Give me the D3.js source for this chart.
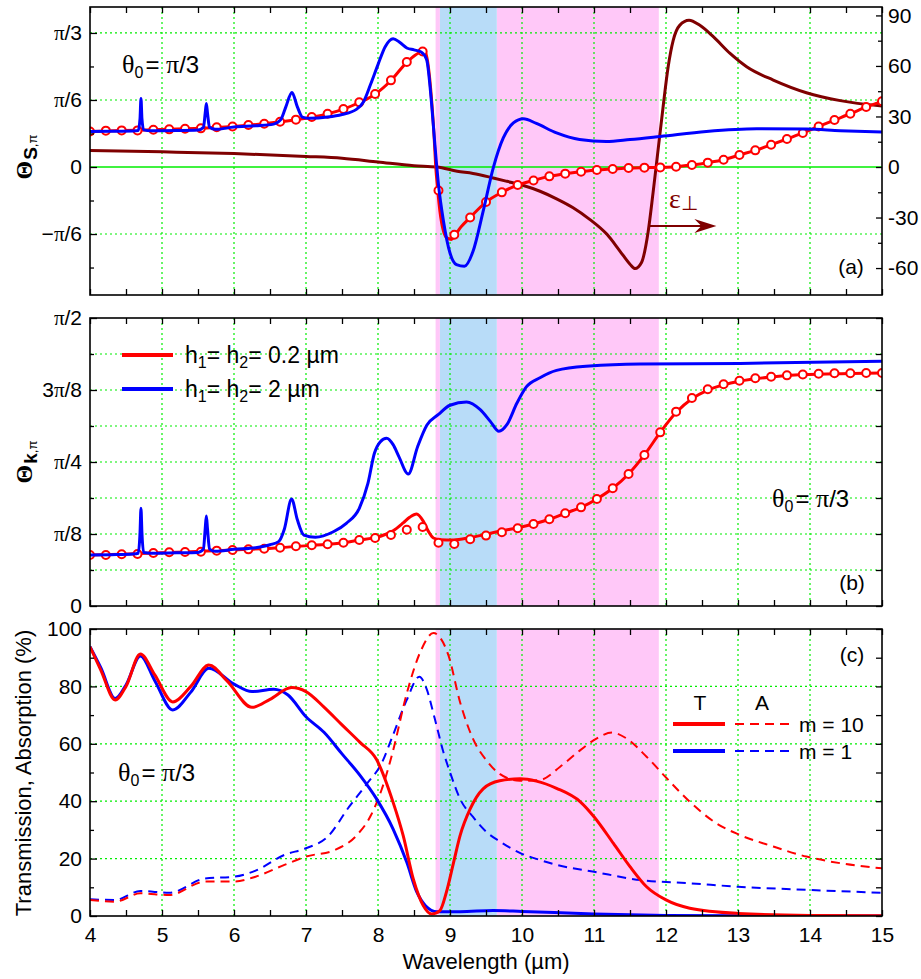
<!DOCTYPE html>
<html>
<head>
<meta charset="utf-8">
<script src="https://cdn.jsdelivr.net/npm/d3@7"></script>
<style>
  body { margin: 0; background: #fff; }
  svg { display: block; }
  text { font-family: "Liberation Sans", Arial, sans-serif; fill: #000; }
</style>
</head>
<body>
<svg id="chart" width="921" height="979"></svg>
<script>
// ---------- data ----------
// Spectral bands (µm): narrow pink edge, blue band, wide pink band
const bandsPink = [[8.80, 8.86], [9.65, 11.90]];
const bandsBlue = [[8.86, 9.65]];

// Panel (a): Θ_S,π (rad), h1 = h2 = 0.2 µm — solid line
const thetaS_h02 = [[4.00,0.278],[4.44,0.285],[4.88,0.291],[5.32,0.298],[5.76,0.309],[6.20,0.327],[6.64,0.353],[7.08,0.389],[7.30,0.415],[7.52,0.452],[7.74,0.504],[7.96,0.569],[8.18,0.676],[8.40,0.818],[8.52,0.875],[8.62,0.903],[8.66,0.895],[8.69,0.82],[8.73,0.62],[8.78,0.23],[8.80,0.02],[8.83,-0.183],[8.86,-0.347],[8.91,-0.503],[8.96,-0.555],[9.02,-0.566],[9.06,-0.54],[9.15,-0.47],[9.28,-0.394],[9.50,-0.274],[9.72,-0.198],[9.94,-0.141],[10.16,-0.105],[10.38,-0.073],[10.60,-0.052],[10.82,-0.037],[11.04,-0.024],[11.26,-0.016],[11.48,-0.008],[11.70,-0.005],[11.92,-0.003],[12.14,0.002],[12.36,0.016],[12.58,0.034],[12.80,0.057],[13.02,0.094],[13.24,0.130],[13.46,0.174],[13.68,0.219],[13.90,0.266],[14.12,0.317],[14.34,0.367],[14.56,0.416],[14.78,0.469],[15.00,0.513]];
// Panel (a): open circles, sampled every 0.22 µm from 4 to 15 µm
const thetaS_h02_marks = [0.278,0.284,0.286,0.286,0.291,0.294,0.299,0.302,0.310,0.317,0.328,0.338,0.354,0.370,0.390,0.416,0.453,0.505,0.570,0.677,0.820,0.903,-0.183,-0.529,-0.394,-0.274,-0.198,-0.141,-0.105,-0.073,-0.052,-0.037,-0.024,-0.016,-0.008,-0.005,-0.003,0.002,0.016,0.034,0.057,0.094,0.130,0.174,0.219,0.266,0.317,0.367,0.416,0.469,0.513];
// Panel (a): Θ_S,π (rad), h1 = h2 = 2 µm
const thetaS_h2 = [[4.00,0.278],[4.30,0.279],[4.60,0.281],[4.67,0.285],[4.695,0.38],[4.708,0.536],[4.721,0.38],[4.745,0.29],[4.85,0.283],[5.20,0.285],[5.50,0.289],[5.575,0.31],[5.600,0.42],[5.616,0.497],[5.632,0.42],[5.66,0.31],[5.74,0.294],[6.00,0.312],[6.30,0.322],[6.55,0.335],[6.65,0.37],[6.72,0.47],[6.805,0.583],[6.88,0.47],[6.95,0.39],[7.05,0.38],[7.30,0.39],[7.50,0.41],[7.70,0.45],[7.80,0.51],[7.90,0.65],[8.00,0.80],[8.10,0.94],[8.21,1.002],[8.30,0.975],[8.40,0.93],[8.50,0.915],[8.60,0.898],[8.675,0.84],[8.745,0.49],[8.79,0.174],[8.84,-0.138],[8.91,-0.425],[9.00,-0.672],[9.09,-0.763],[9.20,-0.776],[9.32,-0.659],[9.46,-0.347],[9.60,-0.008],[9.74,0.227],[9.88,0.344],[10.02,0.377],[10.20,0.34],[10.48,0.266],[10.80,0.215],[11.17,0.200],[11.50,0.215],[11.92,0.239],[12.56,0.278],[13.26,0.299],[13.95,0.297],[14.42,0.284],[15.00,0.273]];
// Panel (a), right axis: ε⊥
const epsPerp = [[4.0,9.8],[5.0,9.0],[6.0,8.0],[7.0,6.3],[7.5,5.2],[8.0,3.0],[8.5,0.8],[8.82,0],[9.1,-2.5],[9.32,-3.8],[9.6,-6.5],[9.79,-8.5],[10.02,-11],[10.25,-14.4],[10.48,-18.9],[10.71,-24.2],[10.94,-31.1],[11.18,-40],[11.36,-49.9],[11.5,-57.7],[11.57,-60.3],[11.66,-56.7],[11.75,-39],[11.82,-15.4],[11.89,10.2],[11.96,35.8],[12.03,59.5],[12.10,75.2],[12.19,84.1],[12.32,87.1],[12.47,84.1],[12.66,77.2],[12.89,67.4],[13.12,59.5],[13.49,51.6],[13.95,44.1],[14.42,39.4],[15.0,36.2]];

// Panel (b): Θ_k,π (rad), h1 = h2 = 0.2 µm — solid line
const thetaK_h02 = [[4.00,0.278],[4.44,0.282],[4.88,0.289],[5.32,0.295],[5.76,0.302],[6.20,0.309],[6.64,0.318],[7.08,0.331],[7.52,0.345],[7.74,0.360],[7.96,0.373],[8.10,0.390],[8.21,0.410],[8.35,0.453],[8.44,0.484],[8.536,0.502],[8.63,0.462],[8.70,0.407],[8.77,0.371],[8.86,0.362],[9.05,0.360],[9.28,0.373],[9.51,0.392],[9.74,0.412],[9.94,0.427],[10.16,0.447],[10.38,0.473],[10.60,0.506],[10.82,0.538],[11.04,0.584],[11.26,0.642],[11.48,0.720],[11.70,0.824],[11.92,0.947],[12.14,1.055],[12.36,1.130],[12.58,1.178],[12.80,1.206],[13.02,1.226],[13.46,1.249],[13.90,1.262],[14.56,1.268],[15.00,1.271]];
// Panel (b): open circles, sampled every 0.22 µm from 4 to 15 µm
const thetaK_h02_marks = [0.278,0.278,0.282,0.284,0.289,0.293,0.295,0.296,0.302,0.305,0.309,0.312,0.318,0.326,0.331,0.337,0.345,0.360,0.371,0.387,0.416,0.431,0.345,0.338,0.364,0.384,0.402,0.424,0.447,0.473,0.506,0.538,0.584,0.642,0.720,0.824,0.947,1.060,1.134,1.182,1.209,1.229,1.242,1.250,1.258,1.263,1.267,1.269,1.269,1.271,1.271];
// Panel (b): Θ_k,π (rad), h1 = h2 = 2 µm
const thetaK_h2 = [[4.00,0.278],[4.30,0.280],[4.60,0.284],[4.67,0.288],[4.695,0.40],[4.708,0.533],[4.721,0.40],[4.745,0.292],[4.85,0.288],[5.20,0.290],[5.50,0.292],[5.575,0.31],[5.600,0.42],[5.616,0.491],[5.632,0.42],[5.66,0.31],[5.74,0.298],[6.00,0.309],[6.30,0.318],[6.50,0.334],[6.62,0.351],[6.70,0.42],[6.80,0.584],[6.88,0.47],[6.97,0.387],[7.13,0.375],[7.38,0.405],[7.56,0.451],[7.74,0.533],[7.86,0.669],[7.95,0.833],[8.03,0.895],[8.12,0.915],[8.21,0.88],[8.29,0.815],[8.42,0.720],[8.55,0.869],[8.68,0.987],[8.84,1.045],[9.00,1.095],[9.23,1.113],[9.42,1.071],[9.56,1.007],[9.68,0.953],[9.79,0.989],[9.93,1.107],[10.06,1.195],[10.25,1.245],[10.48,1.285],[10.94,1.309],[11.64,1.320],[13.03,1.323],[15.00,1.335]];

// Panel (c): transmission T and absorption A (%)
const T_m10 = [[4.0,93.8],[4.15,85.7],[4.35,75.3],[4.5,80],[4.7,91.3],[4.9,84],[5.15,74.6],[5.4,80],[5.65,87.5],[5.9,82],[6.25,72.7],[6.5,75.5],[6.8,79.6],[7.0,78.2],[7.25,72.8],[7.5,66.6],[7.75,60.5],[7.98,54.5],[8.21,39.6],[8.35,28],[8.49,12.9],[8.63,3.6],[8.745,0.7],[8.86,1.9],[8.95,8.3],[9.05,18.7],[9.14,28],[9.28,37.3],[9.46,44.3],[9.69,47.1],[9.97,47.8],[10.2,47],[10.48,44.5],[10.81,39.8],[11.0,34.6],[11.27,25.3],[11.5,17.2],[11.73,10.2],[12.0,5.6],[12.33,2.7],[13.0,0.9],[14.0,0.2],[15.0,0.1]];
const A_m10 = [[4.0,5.6],[4.35,5.0],[4.7,7.9],[5.1,7.3],[5.6,12],[6.0,12],[6.3,13.7],[6.7,17.8],[7.0,20.7],[7.4,23],[7.7,28],[7.9,35],[8.05,44],[8.2,56.7],[8.4,77.6],[8.6,92.7],[8.77,98.6],[8.86,97.1],[8.98,90.7],[9.14,74.5],[9.32,61.7],[9.51,54.1],[9.69,49.5],[9.97,47.1],[10.25,47.4],[10.53,52],[10.81,57.8],[11.04,61.9],[11.25,63.9],[11.45,61.9],[11.73,55.5],[12.01,48],[12.33,39.8],[12.7,32.3],[13.0,28.5],[13.49,24.2],[13.95,20.7],[14.42,18.4],[15.0,16.6]];
const T_m1 = [[4.0,93.8],[4.15,86.5],[4.35,75.8],[4.5,80.5],[4.7,90.6],[4.9,82],[5.15,71.8],[5.4,78],[5.65,86.3],[6.0,80.8],[6.25,78.2],[6.55,79],[6.75,77],[7.0,69.4],[7.25,64],[7.5,56.5],[7.75,49],[7.98,40.8],[8.21,30.3],[8.40,18.7],[8.54,8.3],[8.66,3.6],[8.82,1.5],[9.14,1.5],[9.6,1.9],[10.0,1.6],[11.0,0.7],[12.0,0.2],[13.0,0.05],[15.0,0]];
const A_m1 = [[4.0,5.8],[4.35,5.6],[4.7,8.7],[5.1,8.1],[5.6,13.1],[6.0,13.7],[6.3,15.8],[6.7,21.3],[7.0,23.6],[7.3,27.6],[7.6,38.1],[7.85,46.2],[8.05,53.2],[8.2,62.5],[8.4,75.3],[8.575,83.4],[8.675,79.1],[8.79,68.6],[8.91,57],[9.0,50.1],[9.14,40.8],[9.32,34.5],[9.51,29.2],[9.69,26],[9.97,22],[10.25,19.5],[10.48,17.8],[11.0,15.4],[11.65,12.5],[12.33,11.4],[13.0,10.2],[13.95,9.1],[15.0,8.1]];

// Axis ticks and labels
const PI = Math.PI;
const xTickLabels = d3.range(4, 16);
const thetaSTicks = [-PI/6, 0, PI/6, PI/3];
const thetaSTickLabels = ["−π/6", "0", "π/6", "π/3"];
const thetaSMinor = [-PI/4, -PI/12, PI/12, PI/4];
const epsTicks = [-60, -30, 0, 30, 60, 90];
const epsMinor = [-45, -15, 15, 45, 75];
const thetaKTicks = [0, PI/8, PI/4, 3*PI/8, PI/2];
const thetaKTickLabels = ["0", "π/8", "π/4", "3π/8", "π/2"];
const thetaKMinor = [PI/16, 3*PI/16, 5*PI/16, 7*PI/16];
const tcTicks = [0, 20, 40, 60, 80, 100];
const tcMinor = [10, 30, 50, 70, 90];

// ---------- colours ----------
const RED = "#ff0000", BLUE = "#0000ff", DARK = "#7f0000", GREEN = "#00ee00";
const PINK = "#ffc8f8", LBLUE = "#b8dcf8";

// ---------- scales ----------
const svg = d3.select("#chart");
const X0 = 90, X1 = 882;
const x = d3.scaleLinear().domain([4, 15]).range([X0, X1]);
const pa = { top: 7, bottom: 295 }, pb = { top: 318, bottom: 606 }, pc = { top: 629, bottom: 916 };
const yA = d3.scaleLinear().domain([-1.0, 1.25]).range([pa.bottom, pa.top]);
const yAR = d3.scaleLinear().domain([-76, 95]).range([pa.bottom, pa.top]);
const yB = d3.scaleLinear().domain([0, PI/2]).range([pb.bottom, pb.top]);
const yC = d3.scaleLinear().domain([0, 100]).range([pc.bottom, pc.top]);

const serif = "Liberation Serif, 'Times New Roman', serif";
const piHtml = s => s.replace(/π/g, `<tspan font-family="${serif}">π</tspan>`);

function clip(id, p) {
  svg.append("clipPath").attr("id", id).append("rect")
    .attr("x", X0).attr("y", p.top).attr("width", X1 - X0).attr("height", p.bottom - p.top);
}
clip("ca", pa); clip("cb", pb); clip("cc", pc);

function bands(g, p) {
  bandsPink.forEach(b => g.append("rect").attr("x", x(b[0])).attr("width", x(b[1]) - x(b[0]))
    .attr("y", p.top).attr("height", p.bottom - p.top).attr("fill", PINK));
  bandsBlue.forEach(b => g.append("rect").attr("x", x(b[0])).attr("width", x(b[1]) - x(b[0]))
    .attr("y", p.top).attr("height", p.bottom - p.top).attr("fill", LBLUE));
}

function grid(g, p, y, yVals) {
  d3.range(5, 15).forEach(v => g.append("line")
    .attr("x1", x(v)).attr("x2", x(v)).attr("y1", p.top).attr("y2", p.bottom)
    .attr("stroke", GREEN).attr("stroke-width", 1.2).attr("stroke-dasharray", "2,3"));
  yVals.forEach(v => g.append("line")
    .attr("x1", X0).attr("x2", X1).attr("y1", y(v)).attr("y2", y(v))
    .attr("stroke", GREEN).attr("stroke-width", 1.2).attr("stroke-dasharray", "2,3"));
}

function curve(g, data, y, color, width, dash) {
  const line = d3.line().x(d => x(d[0])).y(d => y(d[1])).curve(d3.curveMonotoneX);
  const path = g.append("path").datum(data).attr("d", line).attr("fill", "none")
    .attr("stroke", color).attr("stroke-width", width).attr("stroke-linejoin", "round");
  if (dash) path.attr("stroke-dasharray", dash);
}

function marks(g, vals, y) {
  g.selectAll(null).data(vals).enter().append("circle")
    .attr("cx", (d, i) => x(4 + 0.22 * i)).attr("cy", d => y(d)).attr("r", 4)
    .attr("fill", "#fff").attr("stroke", RED).attr("stroke-width", 2);
}

function frame(p, xLabels) {
  const halfTicks = d3.range(4, 15.01, 0.5);
  const top = svg.append("g").attr("transform", `translate(0,${p.top})`)
    .call(d3.axisTop(x).tickValues(halfTicks).tickSize(-6).tickFormat(""));
  const bot = svg.append("g").attr("transform", `translate(0,${p.bottom})`)
    .call(d3.axisBottom(x).tickValues(halfTicks).tickSize(-6).tickFormat(""));
  [top, bot].forEach(a => { a.select(".domain").remove(); a.selectAll("line").attr("stroke-width", 1.3); });
  if (xLabels) {
    const lab = svg.append("g").attr("transform", `translate(0,${p.bottom})`)
      .call(d3.axisBottom(x).tickValues(xTickLabels).tickSize(0).tickPadding(11).tickFormat(d3.format("d")));
    lab.select(".domain").remove();
    lab.selectAll("text").attr("font-size", 21).style("font-family", "Liberation Sans, Arial, sans-serif");
  }
  svg.append("rect").attr("x", X0).attr("y", p.top).attr("width", X1 - X0).attr("height", p.bottom - p.top)
    .attr("fill", "none").attr("stroke", "#000").attr("stroke-width", 1.6);
}

function yAxis(y, side, majors, minors, labels, majorLen, minorLen) {
  const X = side === "left" ? X0 : X1;
  const gen = side === "left" ? d3.axisLeft : d3.axisRight;
  const gm = svg.append("g").attr("transform", `translate(${X},0)`)
    .call(gen(y).tickValues(majors).tickSize(-majorLen).tickPadding(side === "left" ? 8 : 6)
      .tickFormat((d, i) => labels ? labels[i] : ""));
  gm.select(".domain").remove();
  gm.selectAll("line").attr("stroke-width", 1.3);
  gm.selectAll("text").attr("font-size", 21).style("font-family", "Liberation Sans, Arial, sans-serif")
    .html(function () { return piHtml(this.textContent); });
  if (minors) {
    const gn = svg.append("g").attr("transform", `translate(${X},0)`)
      .call(gen(y).tickValues(minors).tickSize(-minorLen).tickFormat(""));
    gn.select(".domain").remove();
    gn.selectAll("line").attr("stroke-width", 1.3);
  }
}

function thetaLabel(xp, yp) {
  svg.append("text").attr("x", xp).attr("y", yp).attr("font-size", 24)
    .html(`<tspan font-family="${serif}" font-size="26">θ</tspan><tspan font-size="16" dy="5">0</tspan><tspan dy="-5" dx="2">= </tspan><tspan font-family="${serif}" font-size="26">π</tspan>/3`);
}

// ---------- panel (a) ----------
const ga = svg.append("g");
bands(ga, pa);
grid(ga, pa, yA, [-PI/6, PI/6, PI/3]);
ga.append("line").attr("x1", X0).attr("x2", X1).attr("y1", yA(0)).attr("y2", yA(0))
  .attr("stroke", GREEN).attr("stroke-width", 1.6);
const la = ga.append("g").attr("clip-path", "url(#ca)");
curve(la, epsPerp, yAR, DARK, 3);
curve(la, thetaS_h02, yA, RED, 3);
marks(la, thetaS_h02_marks, yA);
curve(la, thetaS_h2, yA, BLUE, 3);
frame(pa, false);
yAxis(yA, "left", thetaSTicks, thetaSMinor, thetaSTickLabels, 7, 4);
yAxis(yAR, "right", epsTicks, epsMinor, epsTicks.map(String), 6, 4);
thetaLabel(122, 73);
svg.append("text").attr("x", 851).attr("y", 274).attr("text-anchor", "middle").attr("font-size", 21).text("(a)");

// ε⊥ annotation arrow
{
  const yArr = yAR(-35), xs = x(11.77), xt = x(12.7);
  svg.append("line").attr("x1", xs).attr("x2", xt - 14).attr("y1", yArr).attr("y2", yArr)
    .attr("stroke", DARK).attr("stroke-width", 2);
  svg.append("path").attr("fill", DARK)
    .attr("d", `M${xt},${yArr} L${xt - 22},${yArr - 7} L${xt - 15},${yArr} L${xt - 22},${yArr + 7} Z`);
  svg.append("text").attr("x", x(12.04)).attr("y", yAR(-24.5)).style("fill", DARK)
    .attr("font-size", 28)
    .html(`<tspan font-family="${serif}">ε</tspan><tspan font-size="20" dy="2">⊥</tspan>`);
}

// y title (a)
svg.append("text").attr("transform", "translate(32,157) rotate(-90)").attr("text-anchor", "middle")
  .html(`<tspan font-family="${serif}" font-weight="bold" font-size="24">Θ</tspan><tspan font-weight="bold" font-size="19" dy="5" dx="1">S</tspan><tspan font-size="13">,π</tspan>`);

// ---------- panel (b) ----------
const gb = svg.append("g");
bands(gb, pb);
grid(gb, pb, yB, d3.range(1, 8).map(k => k * PI / 16));
const lb = gb.append("g").attr("clip-path", "url(#cb)");
curve(lb, thetaK_h02, yB, RED, 3);
marks(lb, thetaK_h02_marks, yB);
curve(lb, thetaK_h2, yB, BLUE, 3);
frame(pb, false);
yAxis(yB, "left", thetaKTicks, thetaKMinor, thetaKTickLabels, 7, 4);
yAxis(yB, "right", thetaKTicks.concat(thetaKMinor), null, null, 6, 4);
thetaLabel(772, 507);
svg.append("text").attr("x", 852).attr("y", 590).attr("text-anchor", "middle").attr("font-size", 21).text("(b)");

// legend (b)
[[RED, 355, 363, "0.2"], [BLUE, 389, 397, "2"]].forEach(([c, ly, ty, h]) => {
  svg.append("line").attr("x1", 122).attr("x2", 173).attr("y1", ly).attr("y2", ly)
    .attr("stroke", c).attr("stroke-width", 4);
  svg.append("text").attr("x", 185).attr("y", ty).attr("font-size", 23)
    .html(`h<tspan font-size="16" dy="5">1</tspan><tspan dy="-5">= h</tspan><tspan font-size="16" dy="5">2</tspan><tspan dy="-5">= ${h} µm</tspan>`);
});

svg.append("text").attr("transform", "translate(32,462) rotate(-90)").attr("text-anchor", "middle")
  .html(`<tspan font-family="${serif}" font-weight="bold" font-size="24">Θ</tspan><tspan font-weight="bold" font-size="19" dy="5" dx="1">k</tspan><tspan font-size="13">,π</tspan>`);

// ---------- panel (c) ----------
const gc = svg.append("g");
bands(gc, pc);
grid(gc, pc, yC, [20, 40, 60, 80]);
const lc = gc.append("g").attr("clip-path", "url(#cc)");
curve(lc, A_m1, yC, BLUE, 2, "9,6");
curve(lc, A_m10, yC, RED, 2, "9,6");
curve(lc, T_m1, yC, BLUE, 3);
curve(lc, T_m10, yC, RED, 3);
frame(pc, true);
yAxis(yC, "left", tcTicks, tcMinor, tcTicks.map(String), 7, 4);
yAxis(yC, "right", tcTicks.concat(tcMinor), null, null, 6, 4);
thetaLabel(118, 781);
svg.append("text").attr("x", 852).attr("y", 662).attr("text-anchor", "middle").attr("font-size", 21).text("(c)");

// legend (c)
svg.append("text").attr("x", 700).attr("y", 710).attr("text-anchor", "middle").attr("font-size", 21).text("T");
svg.append("text").attr("x", 762).attr("y", 710).attr("text-anchor", "middle").attr("font-size", 21).text("A");
[[RED, 724, 732, "m = 10"], [BLUE, 751, 759, "m = 1"]].forEach(([c, ly, ty, t]) => {
  svg.append("line").attr("x1", 673).attr("x2", 725).attr("y1", ly).attr("y2", ly).attr("stroke", c).attr("stroke-width", 4);
  svg.append("line").attr("x1", 735).attr("x2", 790).attr("y1", ly).attr("y2", ly).attr("stroke", c)
    .attr("stroke-width", 2).attr("stroke-dasharray", "9,6");
  svg.append("text").attr("x", 799).attr("y", ty).attr("font-size", 21).text(t);
});

svg.append("text").attr("transform", "translate(31,773) rotate(-90)").attr("text-anchor", "middle")
  .attr("font-size", 22).text("Transmission, Absorption (%)");
svg.append("text").attr("x", 486).attr("y", 969).attr("text-anchor", "middle").attr("font-size", 22)
  .text("Wavelength (µm)");
</script>
</body>
</html>
